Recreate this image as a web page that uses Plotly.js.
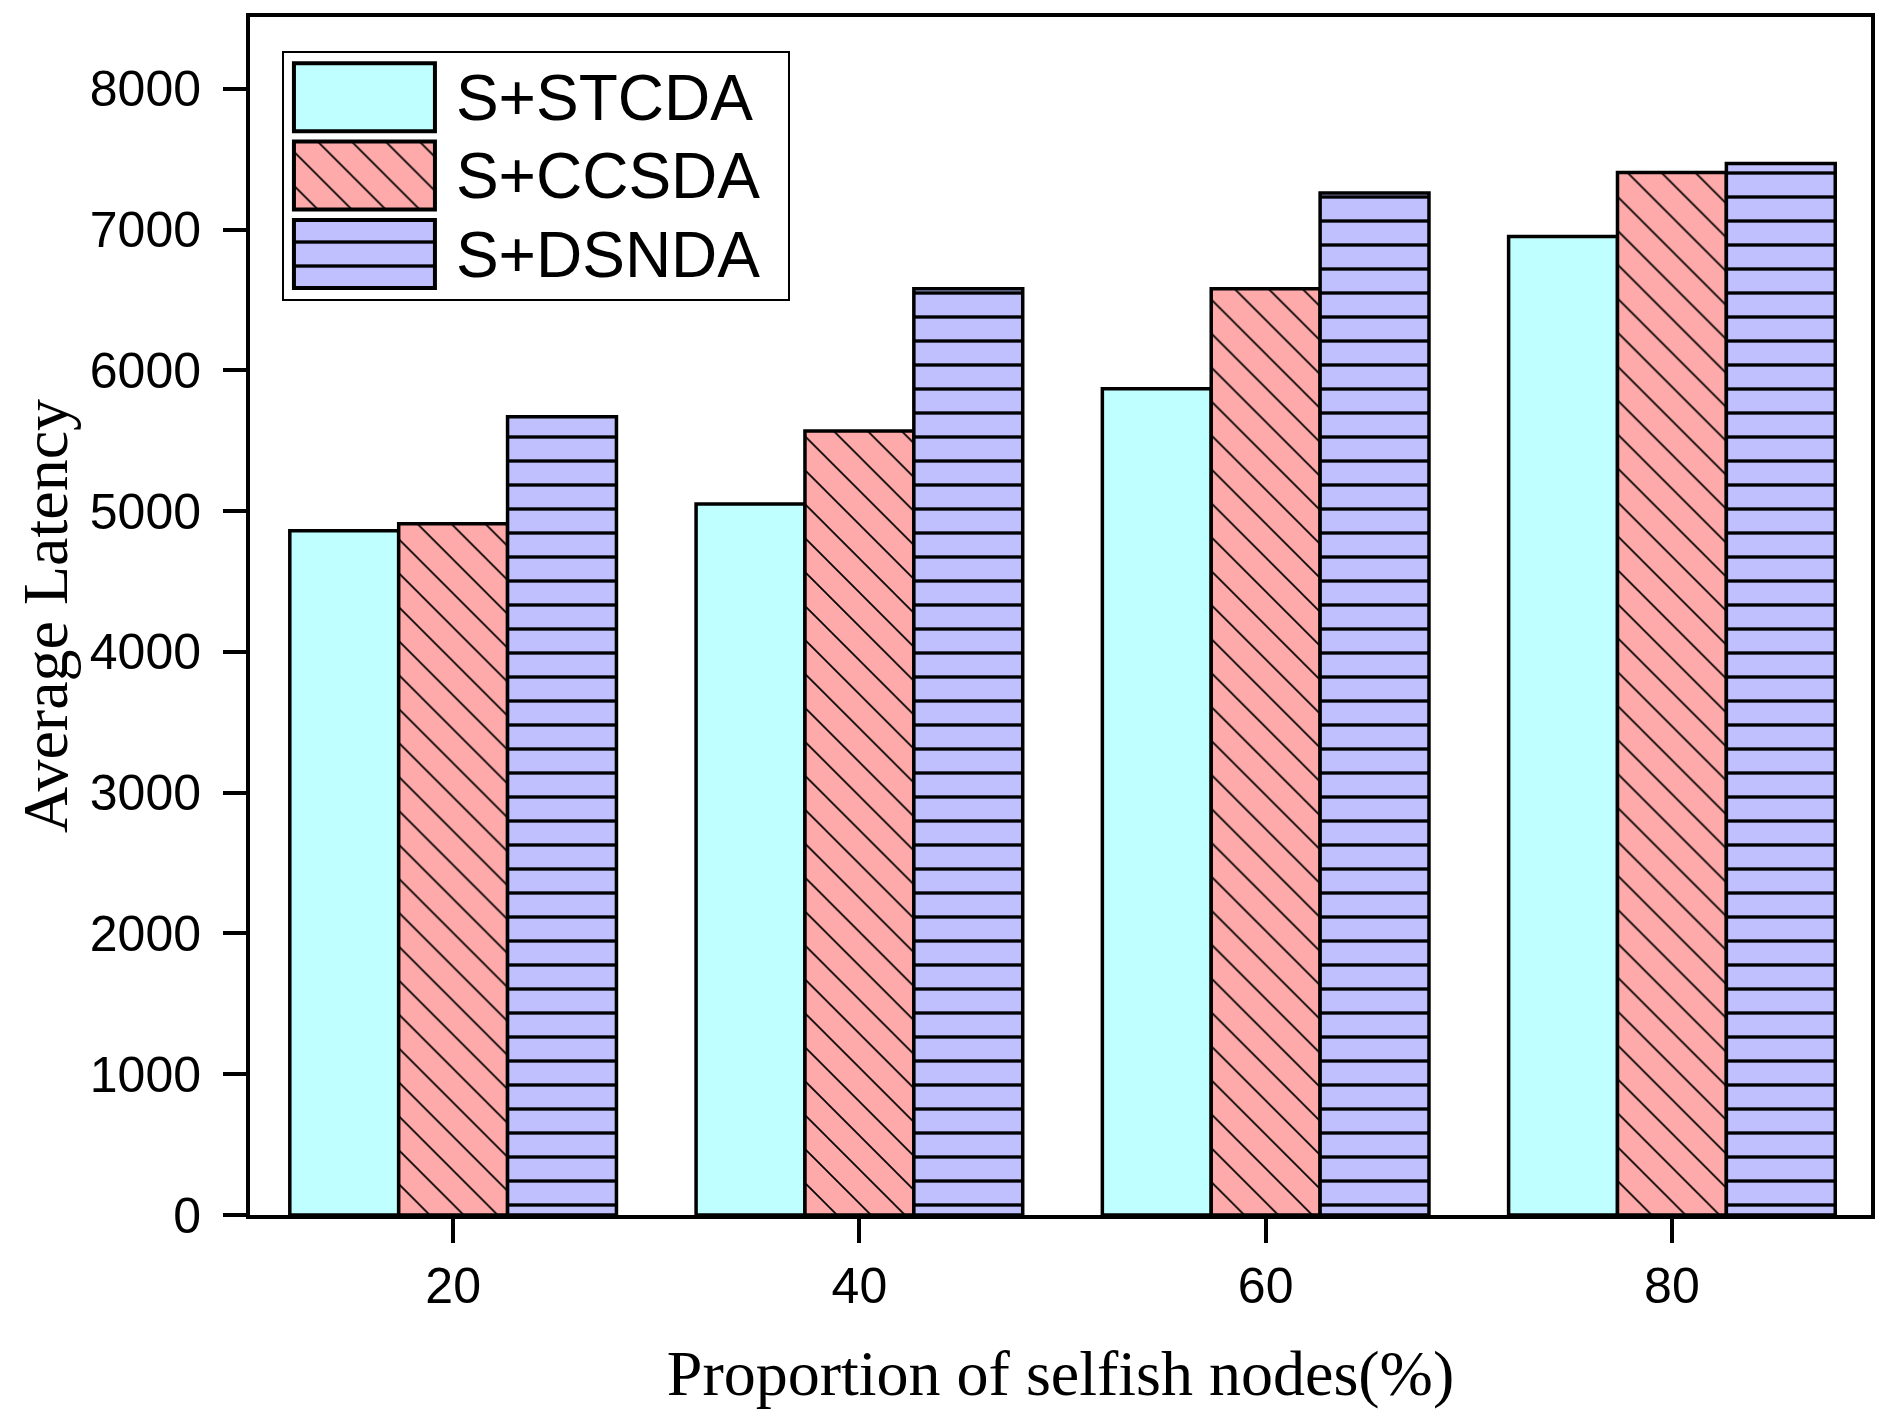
<!DOCTYPE html>
<html>
<head>
<meta charset="utf-8">
<script src="https://cdn.plot.ly/plotly-3.0.1.min.js"></script>
<style>
  body { margin: 0; background: #fff; }
  #chart { width: 1895px; height: 1426px; }
</style>
</head>
<body>
<div id="chart"></div>
<script>
////////////////////////////////////////////  data  ////////////////////////////////////////////
var categories = ['20', '40', '60', '80'];
var seriesNames = ['S+STCDA', 'S+CCSDA', 'S+DSNDA'];
var stcdaValues = [4860, 5050, 5870, 6950];
var ccsdaValues = [4910, 5570, 6580, 7405];
var dsndaValues = [5670, 6580, 7260, 7470];
var yTickValues = [0, 1000, 2000, 3000, 4000, 5000, 6000, 7000, 8000];

////////////////////////////////////////////  traces  ////////////////////////////////////////////
var fillColors = ['#C0FFFF', '#FFAAAA', '#C0C0FF'];
var patterns = [
  { shape: '' },
  { shape: '\\', size: 24, solidity: 0.07, fgcolor: '#000', bgcolor: fillColors[1], fillmode: 'replace' },
  { shape: '-', size: 24, solidity: 0.14, fgcolor: '#000', bgcolor: fillColors[2], fillmode: 'replace' }
];
var seriesValues = [stcdaValues, ccsdaValues, dsndaValues];

var traces = [];
for (var i = 0; i < seriesValues.length; i++) {
  traces.push({
    type: 'bar',
    // legend text drawn bigger than the legend font so rows stay tight like the original
    name: '<span style="font-size:64px">' + seriesNames[i] + '</span>',
    x: categories,
    y: seriesValues[i],
    marker: {
      color: fillColors[i],
      pattern: patterns[i],
      line: { color: '#000', width: 3.5 }
    }
  });
}

////////////////////////////////////////////  layout  ////////////////////////////////////////////
var tickFont = { family: 'Liberation Sans, Arial, sans-serif', size: 50, color: '#000' };
var titleFont = { family: 'Liberation Serif, Times New Roman, serif', size: 64, color: '#000' };

var layout = {
  width: 1895,
  height: 1426,
  margin: { l: 250, r: 24, t: 17, b: 211 },
  paper_bgcolor: '#fff',
  plot_bgcolor: '#fff',
  barmode: 'group',
  bargap: 0.196,
  bargroupgap: 0,
  showlegend: true,
  legend: {
    x: 0.0197, y: 0.9716, xanchor: 'left', yanchor: 'top',
    bgcolor: '#fff', bordercolor: '#000', borderwidth: 2,
    font: { family: 'Liberation Sans, Arial, sans-serif', size: 58, color: '#000' },
    itemwidth: 162,
    traceorder: 'normal'
  },
  xaxis: {
    type: 'category',
    range: [-0.5, 3.49],
    showline: true, linecolor: '#000', linewidth: 4, mirror: true,
    ticks: 'outside', ticklen: 24, tickwidth: 4, tickcolor: '#000',
    tickfont: tickFont,
    showgrid: false, zeroline: false,
    title: { text: 'Proportion of selfish nodes(%)', font: titleFont, standoff: 38 }
  },
  yaxis: {
    range: [0, 8510],
    tickvals: yTickValues,
    showline: true, linecolor: '#000', linewidth: 4, mirror: true,
    ticks: 'outside', ticklen: 23, tickwidth: 4, tickcolor: '#000',
    tickfont: tickFont,
    ticklabelstandoff: 12,
    showgrid: false, zeroline: false,
    title: { text: 'Average Latency', font: titleFont, standoff: 2 }
  }
};

////////////////////////////////////////////  legend swatches  ////////////////////////////////////////////
// plotly draws tiny bar swatches, make them the big boxes of the original
function enlargeLegendSwatches(gd) {
  var barTraces = gd.querySelectorAll('.barlayer .trace');
  var items = gd.querySelectorAll('.legend .traces');
  items.forEach(function (item, k) {
    var txt = item.querySelector('text.legendtext');
    var tx = parseFloat(txt.getAttribute('x')) || 0;
    var barPath = barTraces[k] ? barTraces[k].querySelector('path') : null;
    item.querySelectorAll('.legendpoints path').forEach(function (p) {
      p.removeAttribute('transform');
      var x0 = tx - 162, x1 = tx - 21;
      p.setAttribute('d', 'M' + x0 + ',-34H' + x1 + 'V34H' + x0 + 'Z');
      p.style.setProperty('stroke-width', '4px', 'important');
      p.style.setProperty('stroke', '#000', 'important');
      // same hatch scale as the bars
      if (barPath && barPath.style.fill) p.style.setProperty('fill', barPath.style.fill, 'important');
    });
  });
  // a bit more room on the right of the legend text, like the original box
  var bg = gd.querySelector('.legend .bg');
  if (bg) bg.setAttribute('width', parseFloat(bg.getAttribute('width')) + 22);
}

Plotly.newPlot('chart', traces, layout, { displayModeBar: false, staticPlot: true })
  .then(enlargeLegendSwatches);
</script>
</body>
</html>
